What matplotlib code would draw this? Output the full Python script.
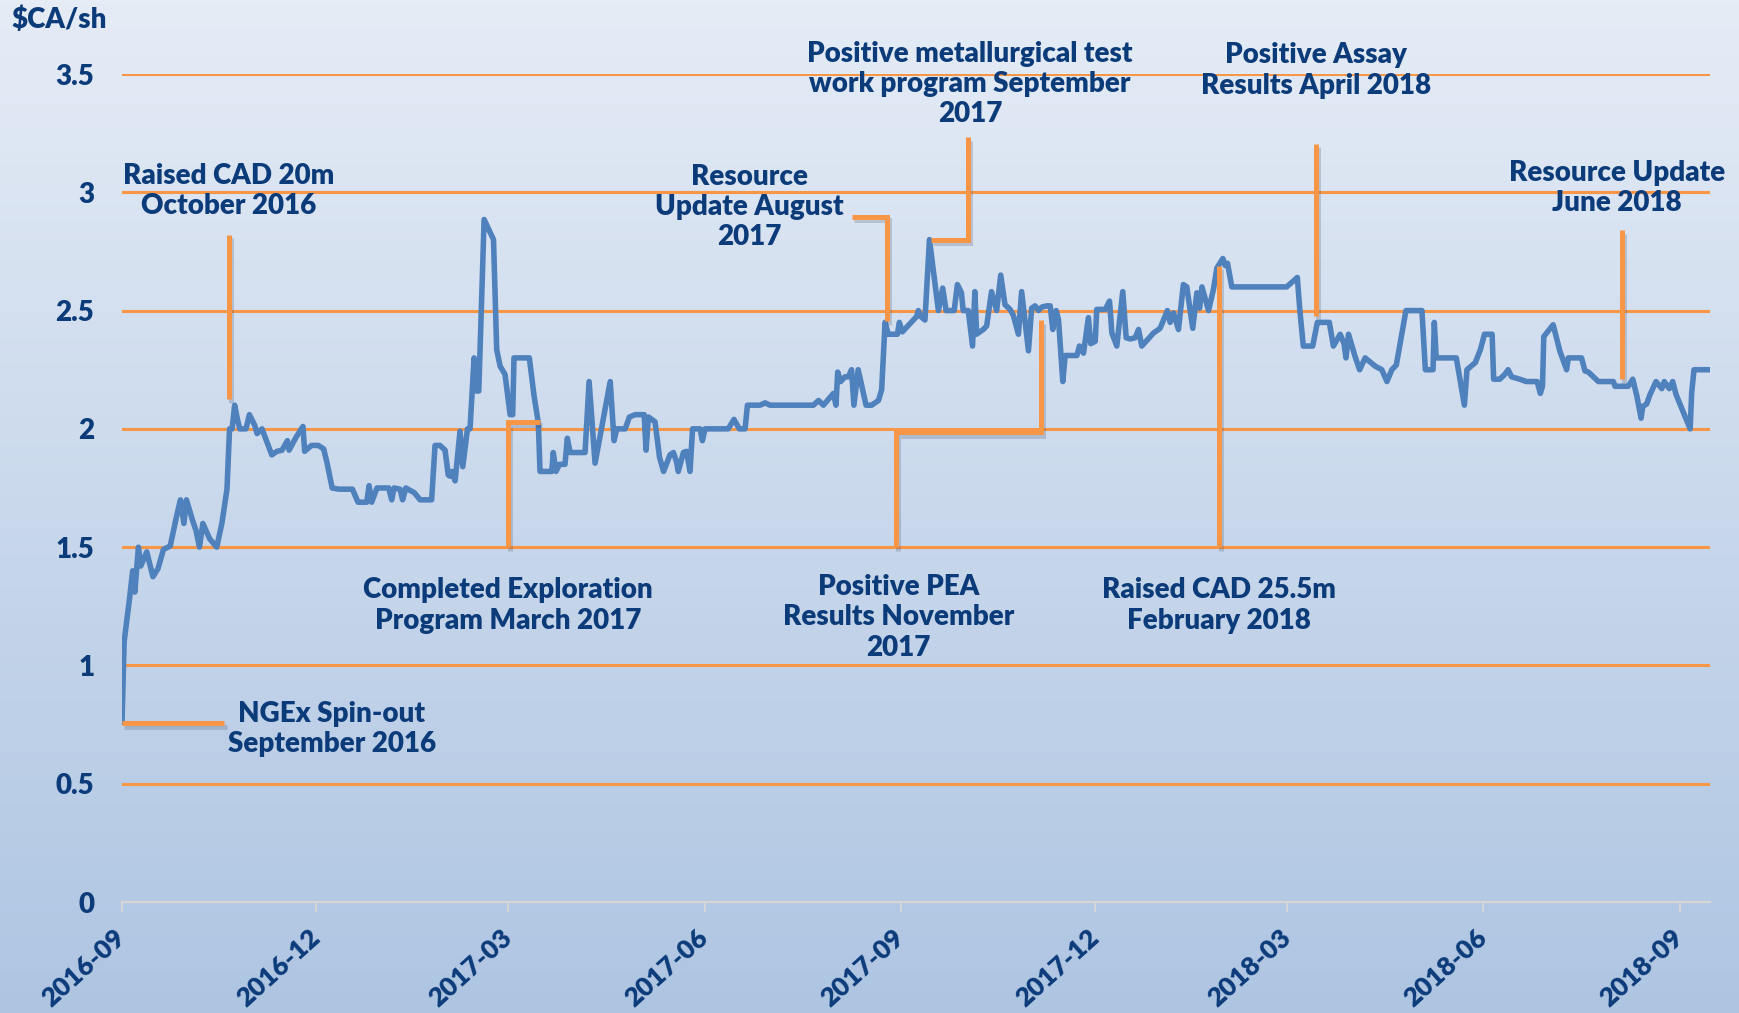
import datetime as dt
import numpy as np
import matplotlib
matplotlib.use("Agg")
import matplotlib.pyplot as plt
import matplotlib.dates as mdates
import matplotlib.patheffects as pe

# ---------------- data ----------------
start_date = dt.datetime(2016, 9, 1)
end_offset = 744.2  # days shown on the axis

# trading day offsets (days after 2016-09-01) and share price ($CA/sh)
day_offsets = [
    0, 1, 3.5, 5, 6, 7.7, 8.8, 11.6, 14.5, 16.9, 19.4, 22.6, 25.8, 27.4, 29, 30.2,
    33, 34.7, 36.3, 37.9, 41.1, 44.4, 46.8, 49.2, 50.4, 51.6, 52.8, 54.1, 55.2, 58.1,
    59.7, 62.2, 63.3, 65.6, 70.2, 72.6, 75, 77.5, 78.3, 81.6, 84.8, 85.6, 88.8, 92,
    94.5, 96, 98.5, 101.7, 108, 110.6, 114.7, 115.8, 117, 119.5, 125, 126.4, 127.5,
    130.3, 131.5, 133, 137, 139.7, 145.1,
    146.7, 149.0, 151.4, 152.9, 153.7, 154.5, 156.1, 158.4, 159.7, 161.9, 163.1,
    165, 166, 167.2, 169.7, 174.1, 175.6, 177.2, 179.5, 181.9, 183.1, 183.7, 190.9,
    193.1, 195.1, 195.9, 201.4, 202.1, 203.4, 205, 207.6, 208.7, 210, 217, 218.9,
    221.7, 228.8, 230.6, 231.9, 235.8, 237.8, 240.5, 244.7, 245.6, 246.7, 249.8,
    251.9, 253.8,
    256.8, 258.4, 259.9, 260.7, 263.1, 264.6, 266.2, 267.4, 270.9, 272, 273.2, 284.1,
    286.8, 289.3, 292, 293.1, 299, 301.4, 303.7, 324, 326.4, 328.7, 333.4, 334.6,
    335.4, 336.8, 338.8, 340.4, 341.9, 343, 345, 348.7, 351.3, 354.5, 356, 357.6,
    359.1, 363.4, 364.3, 365.7, 372.4, 373.2, 374.3, 376.3, 378.4, 380.2, 382.6,
    384.6, 386.2, 390, 391.5, 393.4, 394.2,
    396.6, 398.6, 399.7, 400.5, 403.6, 405.2, 407.5, 409.9, 411.8, 413.8, 416.2,
    417.7, 420.1, 421.6, 424.8, 426.3, 427.9, 429.5, 431.1, 433.4, 435, 436.2, 437.8,
    438.9, 440.9, 442, 447.5, 448.7, 450.6, 452.9, 454, 456.1, 456.8, 460.8, 462.8,
    463.9, 466.2, 469, 470.6, 472.5, 474.8, 476.4, 477.9, 483.4, 486.5, 489.9, 491.2,
    492.8, 495.1, 497.4, 499, 501.8, 503.7, 505, 506.1, 509.2, 511.5, 513.1, 515.9,
    517, 518.1, 520.1,
    523.9, 545.8, 550.8, 552, 553.6, 558, 560.2, 565.8, 567.7, 570.9, 572.7, 573.6,
    574.8, 577.9, 580, 582.6, 587.3, 590.4, 592.8, 595.1, 597.2, 601.7, 609.2, 610.8,
    614.4, 615, 615.9, 625.3, 629.1, 630.3, 634.2, 636.6, 638.5, 642.1, 642.8, 645.7,
    648, 649.6, 651.2, 655, 658.2, 663.2,
    664.7, 665.7, 666.3, 670.7, 673.8, 677, 677.8, 684, 685.6, 687.2, 691.9, 698.9,
    699.7, 705.9, 708, 709.9, 711.9, 712.7, 714.5, 716.1, 718.9, 721.6, 722.8, 725.1,
    726.7, 728.3, 734.9, 735.6, 736.7, 744.2,
]
prices = [
    0.76, 1.10, 1.28, 1.40, 1.31, 1.50, 1.42, 1.48, 1.375, 1.41, 1.49, 1.505, 1.64, 1.70, 1.60, 1.70,
    1.615, 1.57, 1.50, 1.60, 1.535, 1.50, 1.60, 1.745, 2.0, 2.0, 2.10, 2.04, 2.0, 2.0,
    2.06, 2.015, 1.98, 2.0, 1.89, 1.905, 1.91, 1.95, 1.91, 1.965, 2.01, 1.905, 1.93, 1.93,
    1.915, 1.86, 1.75, 1.745, 1.745, 1.69, 1.69, 1.76, 1.69, 1.75, 1.75, 1.70, 1.75,
    1.745, 1.70, 1.75, 1.73, 1.70, 1.70,
    1.93, 1.93, 1.91, 1.805, 1.80, 1.82, 1.78, 1.99, 1.84, 2.0, 2.0,
    2.30, 2.16, 2.16, 2.885, 2.80, 2.335, 2.265, 2.23, 2.06, 2.06, 2.30, 2.30,
    2.14, 2.025, 1.82, 1.82, 1.90, 1.82, 1.85, 1.85, 1.96, 1.90, 1.90, 2.20,
    1.855, 2.20, 1.95, 2.00, 2.00, 2.05, 2.06, 2.06, 1.91, 2.05, 2.03,
    1.88, 1.82,
    1.89, 1.90, 1.86, 1.82, 1.90, 1.905, 1.82, 2.00, 2.00, 1.95, 2.00, 2.00,
    2.04, 2.00, 2.00, 2.10, 2.10, 2.11, 2.10, 2.10, 2.12, 2.10, 2.15, 2.10,
    2.24, 2.20, 2.22, 2.22, 2.25, 2.10, 2.25, 2.10, 2.10, 2.12, 2.165, 2.45,
    2.40, 2.40, 2.45, 2.41, 2.475, 2.50, 2.475, 2.46, 2.80, 2.67, 2.50,
    2.595, 2.50, 2.50, 2.61, 2.575, 2.50,
    2.50, 2.35, 2.58, 2.40, 2.42, 2.435, 2.58, 2.50, 2.65, 2.525, 2.505,
    2.48, 2.40, 2.58, 2.33, 2.51, 2.52, 2.50, 2.515, 2.52, 2.52, 2.42, 2.50,
    2.46, 2.20, 2.31, 2.31, 2.35, 2.32, 2.47, 2.36, 2.37, 2.505, 2.505, 2.54,
    2.405, 2.35, 2.58, 2.385, 2.38, 2.385, 2.42, 2.35, 2.405, 2.425, 2.50, 2.45,
    2.49, 2.42, 2.61, 2.60, 2.425, 2.575, 2.51, 2.60, 2.50, 2.59, 2.68, 2.72,
    2.69, 2.70, 2.60,
    2.60, 2.60, 2.64, 2.50, 2.35, 2.35, 2.45, 2.45, 2.35, 2.40, 2.36, 2.30,
    2.40, 2.305, 2.25, 2.30, 2.265, 2.25, 2.20, 2.25, 2.27, 2.50, 2.50, 2.25,
    2.25, 2.45, 2.30, 2.30, 2.10, 2.25, 2.28, 2.335, 2.40, 2.40, 2.21, 2.21,
    2.23, 2.25, 2.22, 2.21, 2.20, 2.20,
    2.15, 2.18, 2.39, 2.44, 2.33, 2.25, 2.30, 2.30, 2.245, 2.24, 2.20, 2.20,
    2.18, 2.18, 2.21, 2.14, 2.045, 2.095, 2.105, 2.145, 2.20, 2.17, 2.20, 2.17,
    2.20, 2.145, 2.00, 2.15, 2.25, 2.25,
]

y_ticks = [0, 0.5, 1, 1.5, 2, 2.5, 3, 3.5]
y_tick_labels = ["0", "0.5", "1", "1.5", "2", "2.5", "3", "3.5"]
y_unit_label = "$CA/sh"

# event annotations: text, text centre (day offset, price), connector vertices (day offset, price)
ann_texts = [
    "NGEx Spin-out\nSeptember 2016",
    "Raised CAD 20m\nOctober 2016",
    "Completed Exploration\nProgram March 2017",
    "Resource\nUpdate August\n2017",
    "Positive metallurgical test\nwork program September\n2017",
    "Positive PEA\nResults November\n2017",
    "Raised CAD 25.5m\nFebruary 2018",
    "Positive Assay\nResults April 2018",
    "Resource Update\nJune 2018",
]
ann_text_pos = [
    (98.3, 0.732), (49.9, 3.007), (181.0, 1.253), (294.0, 2.939), (397.4, 3.457),
    (364.0, 1.203), (514.3, 1.253), (559.4, 3.515), (700.5, 3.017),
]
ann_paths = [
    [(0, 0.755), (48, 0.755)],
    [(50, 2.82), (50, 2.125)],
    [(181, 1.5), (181, 2.03), (196, 2.03)],
    [(342, 2.896), (358.7, 2.896), (358.7, 2.455)],
    [(396.5, 3.232), (396.5, 2.80), (379, 2.80)],
    [(362.5, 1.5), (362.5, 1.985), (430.6, 1.985), (430.6, 2.46)],
    [(514, 1.5), (514, 2.69)],
    [(559.5, 3.204), (559.5, 2.477)],
    [(703, 2.84), (703, 2.21)],
]

# ---------------- style ----------------
W, H, DPI = 1740, 1013, 100
TEXT_COLOR = "#0c3b7a"
ORANGE = "#f79646"
BLUE = "#4f81bd"
FONT = ["Lato", "DejaVu Sans"]
FS = 20
WEIGHT = "heavy"

plt.rcParams["font.family"] = FONT
plt.rcParams["font.weight"] = "bold"

fig = plt.figure(figsize=(W / DPI, H / DPI), dpi=DPI)

# background gradient
bg = fig.add_axes([0, 0, 1, 1], zorder=-10)
top = np.array([229, 236, 246]) / 255.0
bot = np.array([174, 197, 226]) / 255.0
t = np.linspace(0, 1, 256)[:, None]
grad = (top[None, :] * (1 - t) + bot[None, :] * t)[:, None, :]
bg.imshow(grad, aspect="auto", extent=[0, 1, 0, 1], origin="upper")
bg.set_axis_off()

ax = fig.add_axes([122 / W, 1 - 902 / H, (1710 - 122) / W, (902 - 74) / H])
ax.set_facecolor("none")

base = mdates.date2num(start_date)
x = base + np.asarray(day_offsets, dtype=float)
y = np.asarray(prices, dtype=float)

ax.set_xlim(base, base + end_offset)
ax.set_ylim(0, 3.5)

for v in y_ticks[1:]:
    ax.axhline(v, color=ORANGE, lw=2.2, zorder=1)

ax.plot(x, y, color=BLUE, lw=4.0, zorder=3, solid_joinstyle="round")

shadow = [pe.SimpleLineShadow(offset=(1.5, -2.5), shadow_color="#3a4a60", alpha=0.22),
          pe.Normal()]
for txt, (tx, ty), path in zip(ann_texts, ann_text_pos, ann_paths):
    px = [base + p[0] for p in path]
    py = [p[1] for p in path]
    ax.plot(px, py, color=ORANGE, lw=3.6, zorder=4, clip_on=False,
            solid_joinstyle="miter", solid_capstyle="butt", path_effects=shadow)
    ax.text(base + tx, ty, txt, ha="center", va="center", multialignment="center",
            color=TEXT_COLOR, fontsize=FS, fontweight=WEIGHT, linespacing=1.2,
            clip_on=False, zorder=5)

# axes styling
for s in ["top", "right", "left"]:
    ax.spines[s].set_visible(False)
ax.spines["bottom"].set_color("#d6d6d6")
ax.spines["bottom"].set_linewidth(1.6)
ax.spines["bottom"].set_zorder(2)

ax.set_yticks(y_ticks)
ax.set_yticklabels(y_tick_labels)
ax.tick_params(axis="y", length=0, pad=20, labelsize=FS, labelcolor=TEXT_COLOR)

ax.xaxis.set_major_locator(mdates.MonthLocator(bymonth=[3, 6, 9, 12]))
ax.xaxis.set_major_formatter(mdates.DateFormatter("%Y-%m"))
ax.tick_params(axis="x", direction="out", length=7, width=1.4, color="#d6d6d6",
               pad=16, labelsize=19, labelcolor=TEXT_COLOR)
for lab in ax.get_xticklabels():
    lab.set_rotation(42)
    lab.set_ha("right")
    lab.set_va("center")
    lab.set_rotation_mode("anchor")
    lab.set_fontweight(WEIGHT)
for lab in ax.get_yticklabels():
    lab.set_fontweight(WEIGHT)

fig.text(11 / W, 1 - 20 / H, y_unit_label, ha="left", va="center", color=TEXT_COLOR,
         fontsize=FS, fontweight=WEIGHT)

fig.savefig("out.png", dpi=DPI)
